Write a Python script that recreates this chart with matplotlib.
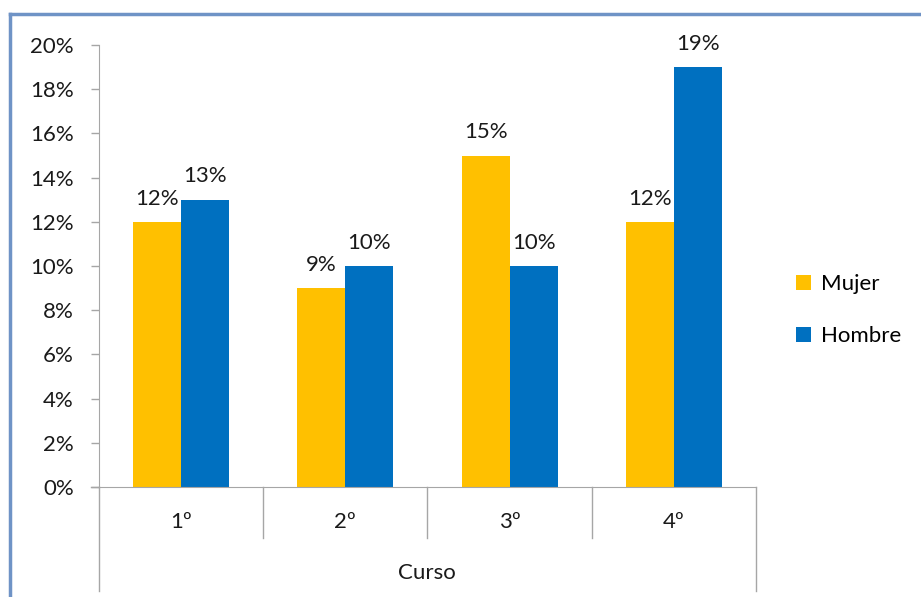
import matplotlib
matplotlib.use('Agg')
import matplotlib.pyplot as plt
from matplotlib.lines import Line2D
import matplotlib.transforms as mtransforms

plt.rcParams['font.family'] = ['Lato', 'DejaVu Sans']

# data
cursos = ['1º', '2º', '3º', '4º']
mujer = [12, 9, 15, 12]
hombre = [13, 10, 10, 19]
yticks = [0, 2, 4, 6, 8, 10, 12, 14, 16, 18, 20]

c_mujer = '#FFC000'
c_hombre = '#0070C0'
grey = '#A6A6A6'
txt = '#1a1a1a'
fs = 16

fig = plt.figure(figsize=(9.21, 5.97), dpi=100)
ax = fig.add_axes([0.1075, 0.1843, 0.7133, 0.7403])

x = list(range(len(cursos)))
w = 0.292
b1 = ax.bar([i - w / 2 for i in x], mujer, w, color=c_mujer, label='Mujer')
b2 = ax.bar([i + w / 2 for i in x], hombre, w, color=c_hombre, label='Hombre')

for bars, vals in ((b1, mujer), (b2, hombre)):
    for r, v in zip(bars, vals):
        ax.text(r.get_x() + r.get_width() / 2, v + 0.6, f'{v}%',
                ha='center', va='bottom', fontsize=fs, color=txt)

ax.set_xlim(-0.5, 3.5)
ax.set_ylim(0, 20)
ax.set_yticks(yticks)
ax.set_yticklabels([f'{t}%' for t in yticks])
ax.tick_params(axis='y', length=6, width=1, color=grey, pad=12,
               labelsize=fs, labelcolor=txt)
ax.set_xticks(x)
ax.set_xticklabels(cursos)
ax.tick_params(axis='x', length=0, pad=18, labelsize=fs, labelcolor=txt)

for s in ('top', 'right'):
    ax.spines[s].set_visible(False)
ax.spines['left'].set_color(grey)
ax.spines['bottom'].set_color(grey)

# category separators below the axis
trans = mtransforms.blended_transform_factory(ax.transData, ax.transAxes)
for xb in (0.5, 1.5, 2.5):
    ax.plot([xb, xb], [0, -0.115], color=grey, lw=1, transform=trans, clip_on=False)
for xb in (-0.5, 3.5):
    ax.plot([xb, xb], [0, -0.235], color=grey, lw=1, transform=trans, clip_on=False)
# axis line extends left like a tick
ax.plot([-0.5 - 0.05, -0.5], [0, 0], color=grey, lw=1, clip_on=False)

fig.text(427 / 921, 1 - 573 / 597, 'Curso', ha='center', va='center',
         fontsize=fs, color=txt)

ax.legend(loc='center left', bbox_to_anchor=(1.03, 0.40), frameon=False,
          fontsize=fs, handlelength=0.7, handleheight=0.7, labelspacing=1.45,
          handletextpad=0.45)

# outer chart frame (top and left visible)
frame_c = '#6F93C6'
fig.add_artist(Line2D([10 / 921, 1], [1 - 14 / 597, 1 - 14 / 597],
                      color=frame_c, lw=2.5, transform=fig.transFigure))
fig.add_artist(Line2D([10 / 921, 10 / 921], [0, 1 - 14 / 597],
                      color=frame_c, lw=2.5, transform=fig.transFigure))

fig.savefig('out.png', dpi=100)
